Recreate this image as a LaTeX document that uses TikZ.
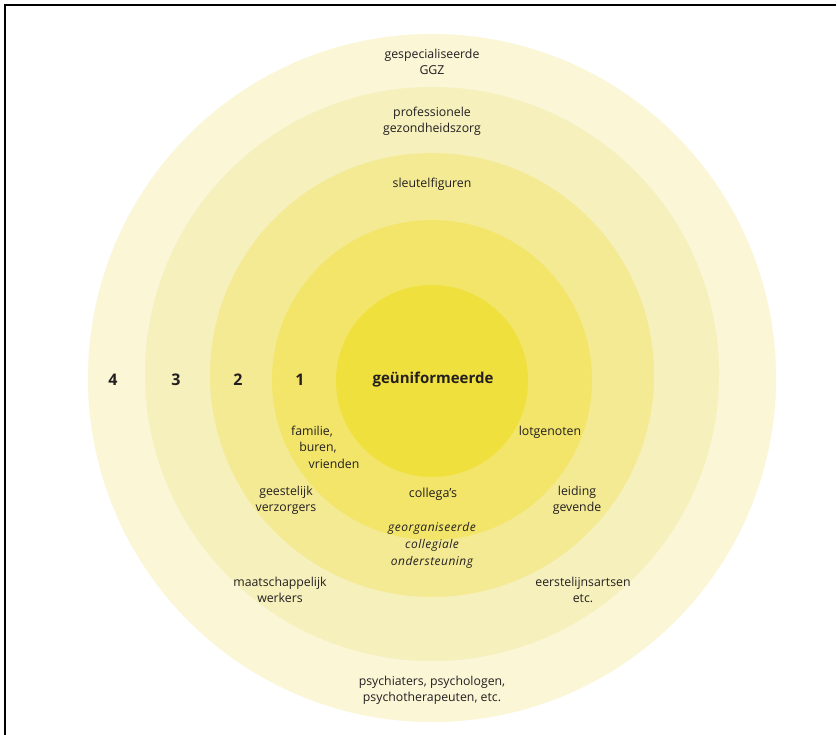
\documentclass[tikz,border=0pt]{standalone}
\usepackage{fontspec}
\setmainfont{Open Sans}
\definecolor{cin}{RGB}{240,224,62}
\definecolor{cone}{RGB}{242,229,105}
\definecolor{ctwo}{RGB}{244,234,148}
\definecolor{cthree}{RGB}{246,240,188}
\definecolor{cfour}{RGB}{250,246,214}
\definecolor{ink}{RGB}{35,31,32}
\begin{document}
\begin{tikzpicture}[x=1pt,y=-1pt,
  lbl/.style={text=ink,font=\fontsize{12.3}{16}\selectfont,align=center,inner sep=0pt},
  num/.style={text=ink,font=\fontsize{16}{18}\selectfont\bfseries,inner sep=0pt},
  ital/.style={text=ink,font=\fontsize{12}{17}\selectfont\itshape\addfontfeatures{LetterSpace=4},align=center,inner sep=0pt}]
\useasboundingbox (0,0) rectangle (837,735);
\fill[white] (0,0) rectangle (837,735);
% rings
\fill[cfour] (432,378) circle [radius=344pt];
\fill[cthree] (432,374) circle [radius=287pt];
\fill[ctwo] (432,375) circle [radius=222pt];
\fill[cone] (432,380) circle [radius=160pt];
\fill[cin] (432,381) circle [radius=96pt];
% frame
\coordinate (fa) at (5,735);
\coordinate (fb) at (5,5);
\coordinate (fc) at (836,5);
\draw[line width=2pt] (fa) -- (fb) -- (fc);
% labels
\node[lbl] (ggz) at (432,62) {gespecialiseerde\\GGZ};
\node[lbl] (prof) at (432,121) {professionele\\gezondheidszorg};
\node[lbl] (sleutel) at (432,184) {sleutelfiguren};
\node[num] (n4) at (113,380) {4};
\node[num] (n3) at (176,380) {3};
\node[num] (n2) at (238,380) {2};
\node[num] (n1) at (300,380) {1};
\node[text=ink,font=\fontsize{15}{16}\selectfont\bfseries,inner sep=0pt] (geu) at (433,380) {geüniformeerde};
\node[lbl] (fam) at (312,432) {familie,};
\node[lbl] (buren) at (318,448) {buren,};
\node[lbl] (vrienden) at (334,464) {vrienden};
\node[lbl] (lot) at (550,432) {lotgenoten};
\node[lbl] (geest) at (286,500) {geestelijk\\verzorgers};
\node[text=ink,font=\fontsize{12.5}{16}\selectfont,inner sep=0pt] (coll) at (433,494) {collega's};
\node[lbl] (leiding) at (577,500) {leiding\\gevende};
\node[ital] (georg) at (432,545) {georganiseerde\\collegiale\\ondersteuning};
\node[lbl] (maat) at (280,590) {maatschappelijk\\werkers};
\node[lbl] (eerste) at (583,590) {eerstelijnsartsen\\etc.};
\node[lbl] (psych) at (432,690) {psychiaters, psychologen,\\psychotherapeuten, etc.};
\end{tikzpicture}
\end{document}
